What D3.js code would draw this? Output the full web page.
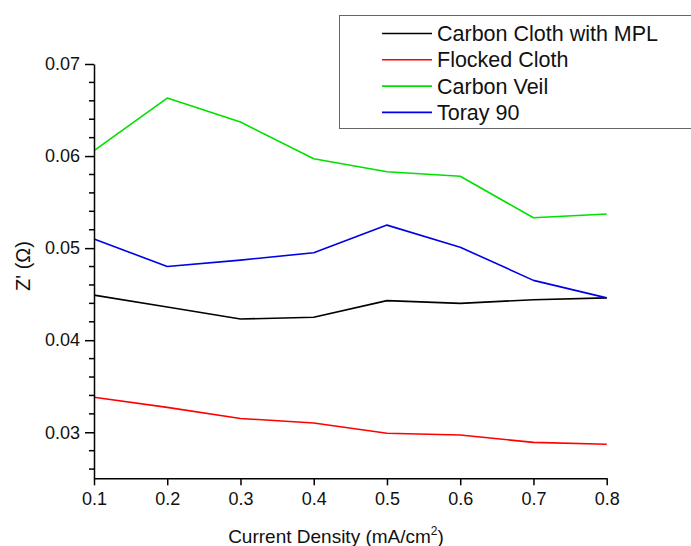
<!DOCTYPE html>
<html>
<head>
<meta charset="utf-8">
<script src="https://cdn.jsdelivr.net/npm/d3@7"></script>
<style>
  html, body { margin: 0; padding: 0; background: #fff; }
  svg { display: block; font-family: Arial, "Liberation Sans", sans-serif; }
</style>
</head>
<body>
<svg id="chart" width="691" height="546"></svg>
<script>
// Current density (mA/cm^2)
const currentDensity = [0.1, 0.2, 0.3, 0.4, 0.5, 0.6, 0.7, 0.8];

// Z' (Ohm) for each gas diffusion layer
const seriesNames = ["Carbon Cloth with MPL", "Flocked Cloth", "Carbon Veil", "Toray 90"];
const seriesColors = ["#000000", "#ff0000", "#00e000", "#0000e6"];
const carbonClothMPL = [0.0449, 0.0436, 0.0423, 0.0425, 0.0443, 0.0440, 0.0444, 0.0446];
const flockedCloth   = [0.0338, 0.0327, 0.0315, 0.0310, 0.0299, 0.0297, 0.0289, 0.0287];
const carbonVeil     = [0.0606, 0.0663, 0.0637, 0.0597, 0.0583, 0.0578, 0.0533, 0.0537];
const toray90        = [0.0510, 0.0480, 0.0487, 0.0495, 0.0525, 0.0501, 0.0465, 0.0446];

const xTicks = [0.1, 0.2, 0.3, 0.4, 0.5, 0.6, 0.7, 0.8];
const yTicks = [0.03, 0.04, 0.05, 0.06, 0.07];

const seriesValues = [carbonClothMPL, flockedCloth, carbonVeil, toray90];

const svg = d3.select("#chart");

const x = d3.scaleLinear().domain([0.1, 0.8]).range([94, 606.7]);
const y = d3.scaleLinear().domain([0.025, 0.07]).range([478.3, 64]);

// Plot lines
const line = d3.line().x(d => x(d[0])).y(d => y(d[1]));
seriesValues.forEach((vals, i) => {
  svg.append("path")
    .datum(currentDensity.map((c, j) => [c, vals[j]]))
    .attr("fill", "none")
    .attr("stroke", seriesColors[i])
    .attr("stroke-width", 1.6)
    .attr("stroke-linejoin", "round")
    .attr("d", line);
});

// X axis
const xAxis = svg.append("g")
  .attr("transform", `translate(0,${y(0.025)})`)
  .call(d3.axisBottom(x).tickValues(xTicks).tickFormat(d3.format(".1f")).tickSize(7).tickSizeOuter(0));
xAxis.select(".domain").attr("stroke-width", 1.5);
xAxis.selectAll(".tick line").attr("stroke-width", 1.5);
xAxis.selectAll(".tick text")
  .attr("font-size", 18).attr("font-family", "Arial, 'Liberation Sans', sans-serif")
  .attr("fill", "#111").attr("dy", "0.95em");

// Y minor ticks
const yMinor = d3.range(0.026, 0.0701, 0.002).filter(v => !yTicks.some(t => Math.abs(t - v) < 1e-6));
svg.append("g").selectAll("line").data(yMinor).join("line")
  .attr("x1", x(0.1) - 5).attr("x2", x(0.1))
  .attr("y1", d => y(d)).attr("y2", d => y(d))
  .attr("stroke", "#000").attr("stroke-width", 1.5);

// Y axis
const yAxis = svg.append("g")
  .attr("transform", `translate(${x(0.1)},0)`)
  .call(d3.axisLeft(y).tickValues(yTicks).tickFormat(d3.format(".2f")).tickSize(9).tickSizeOuter(0));
yAxis.select(".domain").attr("stroke-width", 1.5);
yAxis.selectAll(".tick line").attr("stroke-width", 1.5);
yAxis.selectAll(".tick text")
  .attr("font-size", 18).attr("font-family", "Arial, 'Liberation Sans', sans-serif")
  .attr("fill", "#111").attr("x", -14);

// Axis titles
const xTitle = svg.append("text")
  .attr("x", 336).attr("y", 543)
  .attr("text-anchor", "middle")
  .attr("font-size", 19).attr("fill", "#111");
xTitle.append("tspan").text("Current Density (mA/cm");
xTitle.append("tspan").attr("font-size", 12).attr("dy", -8).text("2");
xTitle.append("tspan").attr("dy", 8).text(")");

svg.append("text")
  .attr("transform", "translate(30,266) rotate(-90)")
  .attr("text-anchor", "middle")
  .attr("font-size", 20).attr("fill", "#111")
  .text("Z' (Ω)");

// Legend
const legend = svg.append("g");
legend.append("rect")
  .attr("x", 339.5).attr("y", 15.5).attr("width", 360).attr("height", 113)
  .attr("fill", "#fff").attr("stroke", "#666").attr("stroke-width", 1);
seriesNames.forEach((name, i) => {
  const cy = 33.5 + i * 26.3;
  legend.append("line")
    .attr("x1", 382).attr("x2", 432).attr("y1", cy).attr("y2", cy)
    .attr("stroke", seriesColors[i]).attr("stroke-width", 1.6);
  legend.append("text")
    .attr("x", 437).attr("y", cy).attr("dy", "0.35em")
    .attr("font-size", 21.5).attr("fill", "#111")
    .text(name);
});
</script>
</body>
</html>
